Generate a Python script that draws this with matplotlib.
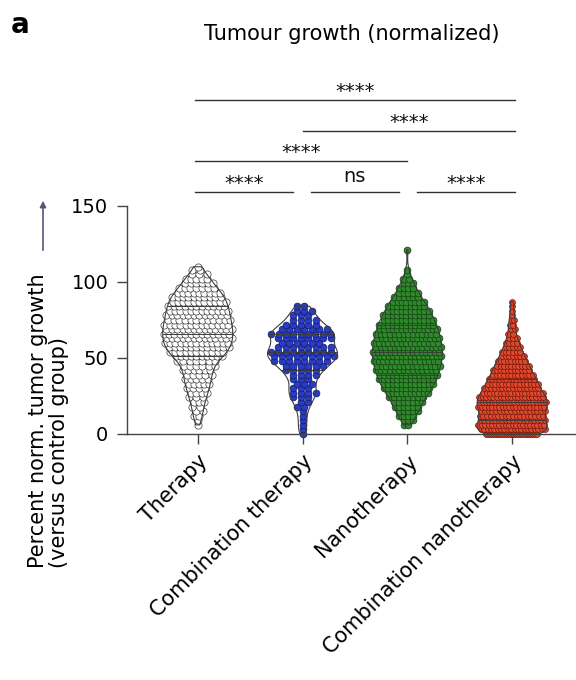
import numpy as np
import matplotlib.pyplot as plt
from matplotlib.patches import FancyArrowPatch

# categories
groups = ['Therapy', 'Combination therapy', 'Nanotherapy', 'Combination nanotherapy']

# number of points at each value level (percent)
therapy_levels = [6, 9, 12, 15, 18, 21, 24, 27, 30, 33, 36, 39, 42, 45, 48, 51, 54, 57,
                  60, 63, 66, 69, 72, 75, 78, 81, 84, 87, 90, 93, 96, 99, 102, 105, 108, 110]
therapy_counts = [1, 1, 2, 2, 2, 3, 3, 4, 4, 5, 5, 5, 6, 6, 7, 10, 11, 12,
                  13, 13, 13, 13, 13, 12, 12, 12, 11, 11, 10, 9, 7, 6, 5, 3, 2, 1]

combo_levels = [0, 3, 6, 9, 12, 15, 18, 21, 24, 27, 30, 33, 36, 39, 42, 45, 48, 51,
                54, 57, 60, 63, 66, 69, 72, 75, 78, 81, 84]
combo_counts = [1, 1, 1, 1, 1, 1, 2, 2, 3, 4, 3, 3, 3, 4, 5, 6, 8, 9,
                9, 8, 6, 8, 9, 7, 5, 4, 3, 3, 2]

nano_levels = [6, 9, 12, 15, 18, 21, 24, 27, 30, 33, 36, 39, 42, 45, 48, 51, 54, 57,
               60, 63, 66, 69, 72, 75, 78, 81, 84, 87, 90, 93, 96, 99, 102, 105, 108, 121]
nano_counts = [2, 3, 4, 5, 6, 7, 8, 10, 11, 12, 13, 14, 14, 15, 15, 16, 16, 15,
               15, 15, 14, 14, 13, 12, 11, 10, 9, 8, 6, 5, 4, 3, 2, 1, 1, 1]

combo_nano_levels = [0, 3, 6, 9, 12, 15, 18, 21, 24, 27, 30, 33, 36, 39, 42, 45, 48, 51,
                     54, 57, 60, 63, 66, 69, 72, 75, 78, 81, 84, 87]
combo_nano_counts = [28, 20, 20, 19, 18, 18, 20, 22, 19, 18, 16, 15, 14, 12, 11, 10, 9, 7,
                     6, 5, 4, 3, 2, 2, 2, 2, 1, 1, 1, 1]

# significance brackets: (start, end, label)
comparisons = [(-0.03, 0.91, '****'), (1.08, 1.92, 'ns'), (2.09, 3.03, '****'),
               (-0.03, 2.0, '****'), (1.0, 3.03, '****'), (-0.03, 3.03, '****')]
bracket_y = [159, 159, 159, 179.5, 199.5, 219.5]

all_levels = [therapy_levels, combo_levels, nano_levels, combo_nano_levels]
all_counts = [therapy_counts, combo_counts, nano_counts, combo_nano_counts]
face_colors = ['#ffffff', '#2a3cc4', '#2f8a2c', '#e2472c']
edge_colors = ['#3a3a3a', '#101a66', '#143c12', '#6e1a0e']
marker_s = [27, 24, 24, 18]

fig = plt.figure(figsize=(5.76, 6.8), dpi=100)
ax = fig.add_axes([0.2205, 0.3618, 0.7795, 0.3353])

bw = 4.0
max_half = 0.334
px_x = 104.8  # pixels per category unit


def kde(vals, grid):
    d = np.asarray(grid, float)[:, None] - vals[None, :]
    return np.exp(-0.5 * (d / bw) ** 2).sum(axis=1)


for i, (lv, ct) in enumerate(zip(all_levels, all_counts)):
    vals = np.repeat(np.array(lv, float), ct)
    grid = np.linspace(vals.min(), vals.max(), 300)
    dens = kde(vals, grid)
    scale = max_half / dens.max()
    half = dens * scale

    r = np.sqrt(marker_s[i]) / 72 * 100 / 2 / px_x
    step = 2 * r * 1.1
    xs, ys = [], []
    for k, (v, n) in enumerate(zip(lv, ct)):
        w = kde(vals, [v])[0] * scale
        if n == 1:
            off = np.array([0.0])
        else:
            span = max(min(w - r * 0.6, (n - 1) * step / 2), 0)
            off = np.linspace(-span, span, n)
            sp = 2 * span / (n - 1)
            off = off + (sp / 4 if k % 2 else -sp / 4)
        xs.extend(i + off)
        ys.extend([v] * n)
    ax.scatter(xs, ys, s=marker_s[i], facecolor=face_colors[i], edgecolor=edge_colors[i],
               linewidth=0.5, zorder=2, clip_on=False)

    ax.fill_betweenx(grid, i - half, i + half, facecolor='none', edgecolor='#3c3c3c',
                     linewidth=0.8, zorder=3)
    for q in np.percentile(vals, [25, 50, 75]):
        hw = np.interp(q, grid, half)
        ax.plot([i - hw, i + hw], [q, q], color='#3c3c3c', lw=0.7, zorder=3)

for (x0, x1, lab), yb in zip(comparisons, bracket_y):
    ax.plot([x0, x1], [yb, yb], color='#333333', lw=1.0, clip_on=False)
    off = 6.5 if lab == 'ns' else 2.0
    ax.text((x0 + x1) / 2, yb + off, lab, ha='center', va='baseline', fontsize=14,
            color='#111111', clip_on=False)

ax.set_xlim(-0.675, 3.61)
ax.set_ylim(0, 150)
ax.set_yticks([0, 50, 100, 150])
ax.set_xticks(range(len(groups)))
ax.set_xticklabels(groups, rotation=45, ha='right', rotation_mode='anchor', fontsize=15)
for s in ['top', 'right']:
    ax.spines[s].set_visible(False)
for s in ['left', 'bottom']:
    ax.spines[s].set_color('#444444')
    ax.spines[s].set_linewidth(1.0)
ax.tick_params(axis='both', length=7.5, width=1.0, color='#444444')
ax.tick_params(axis='y', labelsize=14, pad=6)
ax.tick_params(axis='x', pad=5)

fig.text(0.611, 0.95, 'Tumour growth (normalized)', ha='center', va='center', fontsize=15)
fig.text(0.018, 0.963, 'a', ha='left', va='center', fontsize=20, fontweight='bold')
fig.text(0.084, 0.165, 'Percent norm. tumor growth\n(versus control group)', rotation=90,
         ha='center', va='bottom', multialignment='left', fontsize=15, linespacing=1.05)
fig.add_artist(FancyArrowPatch((43 / 576, 1 - 253 / 680), (43 / 576, 1 - 198 / 680),
                               transform=fig.transFigure, arrowstyle='-|>',
                               mutation_scale=9, color='#55557a', lw=1.2))

plt.savefig('out.png', dpi=100)
